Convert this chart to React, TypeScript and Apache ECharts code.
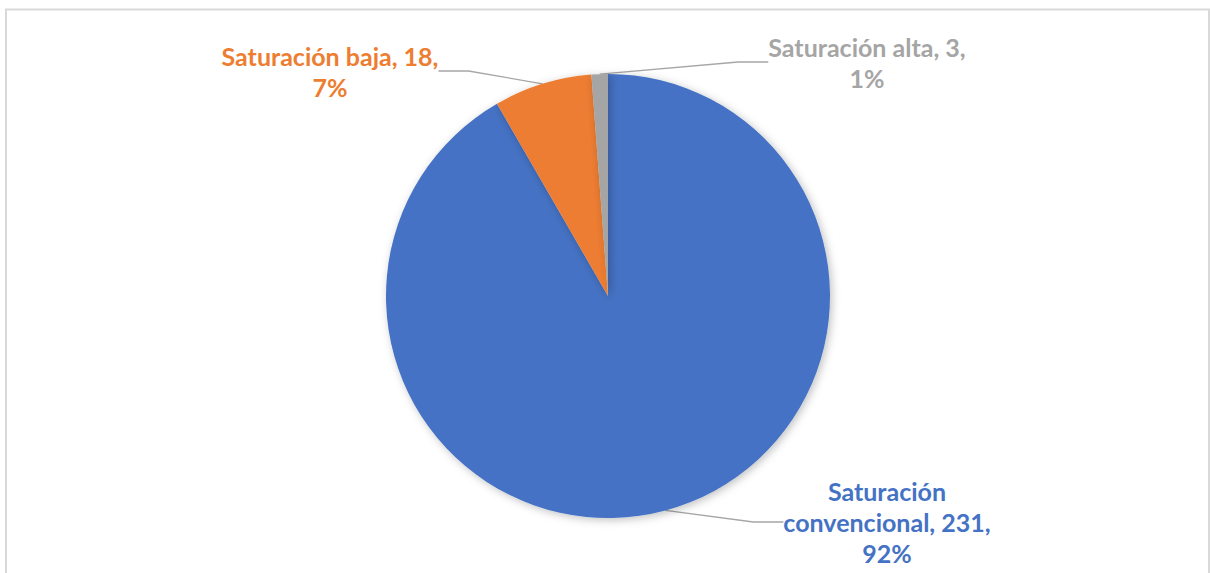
import React, { useEffect, useRef } from "react";
import * as echarts from "echarts";

const categories = ["Saturación convencional", "Saturación baja", "Saturación alta"];
const values = [231, 18, 3];
const colors = ["#4472C4", "#ED7D31", "#A5A5A5"];
// label anchor positions (center of text block) per slice
const labelPos = [
  { x: 887, y: 522 },
  { x: 330, y: 71 },
  { x: 867, y: 62 },
];

export default function App() {
  const ref = useRef<HTMLDivElement>(null);
  useEffect(() => {
    document.body.style.margin = "0";
    const chart = echarts.init(ref.current!, undefined, { renderer: "svg" });
    chart.setOption({
      animation: false,
      backgroundColor: "#ffffff",
      graphic: [
        {
          type: "rect",
          shape: { x: 6, y: 9.5, width: 1203, height: 580 },
          style: { fill: "none", stroke: "#d9d9d9", lineWidth: 2 },
          silent: true,
        },
      ],
      series: [
        {
          type: "pie",
          center: [608, 296],
          radius: 222,
          startAngle: 90,
          clockwise: true,
          percentPrecision: 0,
          data: categories.map((n, i) => ({
            name: n,
            value: values[i],
            itemStyle: { color: colors[i] },
            label: { color: colors[i] },
          })),
          itemStyle: {
            shadowBlur: 8,
            shadowColor: "rgba(0,0,0,0.25)",
            shadowOffsetX: 2,
            shadowOffsetY: 2,
          },
          label: {
            show: true,
            position: "outside",
            fontFamily: "Lato",
            fontWeight: "bold",
            fontSize: 25,
            lineHeight: 31,
            align: "center",
            formatter: (p: any) => {
              const name = p.dataIndex === 0 ? p.name.replace(" ", "\n") : p.name;
              return `${name}, ${p.value},\n${p.percent}%`;
            },
          },
          labelLine: {
            show: true,
            lineStyle: { color: "#A6A6A6", width: 1.3 },
          },
          labelLayout: (params: any) => {
            const p = labelPos[params.dataIndex];
            return {
              x: p.x,
              y: p.y,
              align: "center",
              verticalAlign: "middle",
            };
          },
        },
      ],
    });
    return () => chart.dispose();
  }, []);
  return <div ref={ref} style={{ width: 1210, height: 573 }} />;
}
